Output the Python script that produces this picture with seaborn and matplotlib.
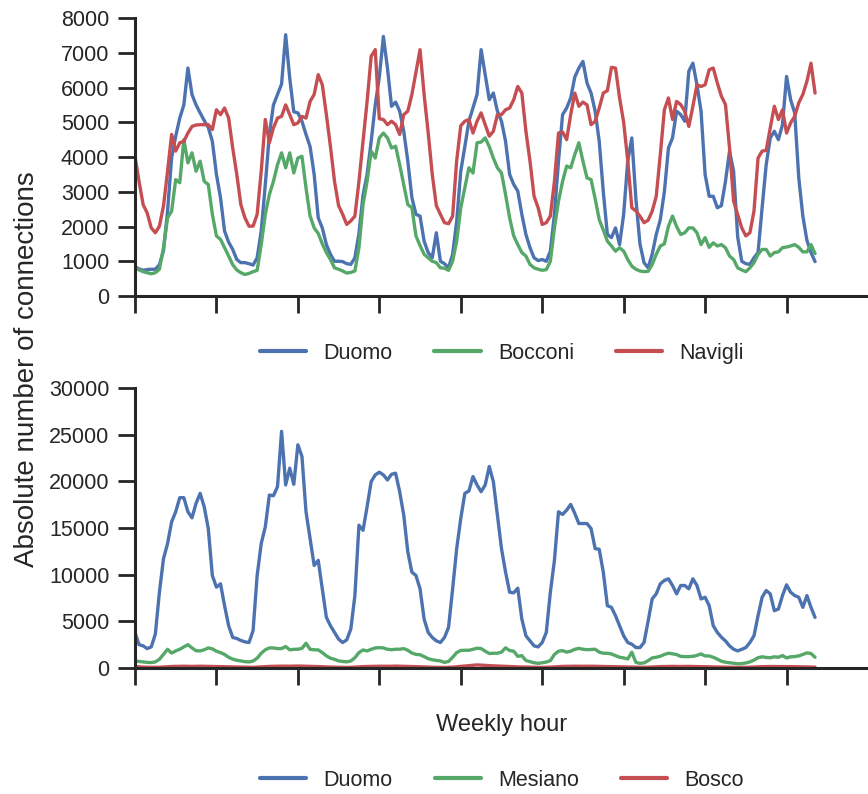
import numpy as np
import pandas as pd
import matplotlib
matplotlib.use("Agg")
from matplotlib import pyplot as plt
import seaborn as sns

hours = np.arange(168)

# top panel: Duomo / Bocconi / Navigli
duomo_top = [
    840, 780, 740, 760, 770, 770, 900, 1300, 2440, 3980, 4600, 5120, 5500, 6560, 5800, 5500, 5270, 5050, 4850, 4450, 3500, 2830, 1870, 1550,
    1340, 1050, 960, 960, 930, 890, 1100, 1870, 3200, 4650, 5500, 5800, 6100, 7520, 6270, 5300, 5270, 5030, 4650, 4300, 3500, 2250, 1960, 1480,
    1200, 1000, 1000, 990, 930, 910, 1100, 1800, 2900, 3500, 4450, 5500, 6300, 7470, 6560, 5460, 5580, 5320, 4740, 3880, 2830, 2350, 2300, 1580,
    1250, 1100, 1820, 1000, 930, 810, 1200, 2150, 3590, 4300, 5030, 5410, 5800, 7090, 6370, 5650, 5840, 5320, 5030, 4450, 3500, 3210, 3020, 2350,
    1770, 1390, 1100, 1020, 1050, 1000, 1290, 2350, 3880, 5220, 5410, 5700, 6300, 6560, 6750, 6130, 5840, 5320, 4450, 3000, 1770, 1680, 1960, 1480,
    2350, 3880, 4550, 2800, 1500, 960, 810, 1200, 1770, 2200, 3000, 4260, 4550, 5320, 5220, 5030, 6470, 6700, 6080, 5320, 3500, 2870, 2870, 2540,
    2600, 3300, 4170, 3590, 1700, 1000, 930, 910, 1100, 1250, 2540, 3780, 4550, 4740, 4500, 4930, 6320, 5650, 5270, 3400, 2300, 1600, 1250, 990,
]
bocconi = [
    830, 750, 700, 670, 640, 670, 770, 1390, 2250, 2440, 3350, 3260, 4500, 3830, 4120, 3590, 3880, 3300, 3210, 2350, 1730, 1630, 1390, 1150,
    900, 750, 670, 620, 650, 700, 740, 1480, 2350, 2920, 3300, 3780, 4120, 3690, 4120, 3540, 3970, 4020, 3110, 2300, 1960, 1800, 1500, 1250,
    1050, 810, 770, 720, 660, 680, 720, 1390, 2630, 3300, 4170, 3970, 4550, 4690, 4550, 4260, 4310, 3780, 3210, 2630, 2540, 1730, 1450, 1200,
    1100, 1000, 960, 810, 800, 740, 1000, 1580, 2540, 3110, 3690, 3540, 4410, 4430, 4550, 4300, 3970, 3690, 3540, 2920, 2250, 1730, 1480, 1250,
    1150, 910, 810, 770, 740, 760, 1000, 1960, 2730, 3300, 3740, 3690, 4070, 4410, 3880, 3400, 3350, 2800, 2200, 1900, 1580, 1440, 1290, 1390,
    1290, 1050, 860, 770, 720, 700, 710, 900, 1200, 1440, 1500, 2010, 2300, 2000, 1770, 1820, 1960, 1960, 1820, 1480, 1680, 1400, 1530, 1440,
    1480, 1390, 1150, 1050, 810, 750, 700, 810, 960, 1200, 1340, 1340, 1150, 1250, 1270, 1390, 1410, 1440, 1480, 1400, 1270, 1270, 1480, 1220,
]
navigli = [
    4020, 3300, 2630, 2390, 1960, 1820, 2010, 2590, 3590, 4650, 4170, 4410, 4450, 4690, 4880, 4920, 4930, 4930, 4930, 4790, 5360, 5220, 5410, 5120,
    4260, 3500, 2630, 2250, 2010, 2010, 2350, 3590, 5080, 4410, 4840, 5120, 5170, 5500, 5220, 4930, 4980, 5170, 5120, 5600, 5800, 6370, 6080, 5220,
    4300, 3300, 2600, 2350, 2060, 2160, 2300, 3300, 4450, 5600, 6900, 7090, 5100, 5080, 4930, 5030, 4930, 4650, 5220, 5320, 5800, 6450, 7090, 5800,
    4700, 3500, 2600, 2350, 2110, 2080, 2300, 3900, 4900, 5030, 5080, 4690, 5030, 5270, 4930, 4600, 4740, 5220, 5220, 5360, 5410, 5650, 6030, 5840,
    4740, 3880, 2870, 2540, 2060, 2110, 2300, 3300, 4690, 4720, 4500, 5220, 5840, 5460, 5580, 5500, 4930, 5030, 5410, 5840, 5910, 6580, 6560, 5700,
    5000, 3900, 2540, 2450, 2300, 2110, 2180, 2440, 2870, 4070, 5360, 5700, 5080, 5600, 5510, 5320, 4880, 5460, 6080, 6030, 6080, 6510, 6560, 6130,
    5750, 5510, 4260, 2730, 2350, 1960, 1730, 1820, 2440, 3970, 4170, 4190, 4840, 5460, 5080, 5360, 4690, 4980, 5170, 5560, 5800, 6180, 6700, 5840,
]

# bottom panel: Duomo / Mesiano / Bosco
duomo_bottom = [
    3810, 2500, 2370, 2080, 2260, 3630, 8120, 11710, 13330, 15660, 16740, 18250, 18250, 16740, 16090, 17640, 18710, 17280, 14940, 9910, 8660, 9020, 6680, 4530,
    3270, 3160, 2950, 2800, 2730, 4000, 9910, 13330, 15120, 18530, 18460, 19430, 25360, 19610, 21410, 19680, 23920, 22670, 16740, 13860, 10990, 11530, 8480, 5420,
    4530, 3810, 3090, 2730, 3020, 4170, 7760, 15300, 14760, 17280, 19970, 20690, 20980, 20690, 20150, 20760, 20870, 18890, 16380, 12430, 10270, 9910, 8480, 5240,
    3810, 3270, 2910, 2730, 3270, 4350, 8480, 12790, 16020, 18710, 18970, 20510, 19610, 18890, 19610, 21590, 19970, 16380, 12790, 10270, 8120, 8050, 8550, 5240,
    3450, 2910, 2370, 2260, 2730, 3810, 8120, 11530, 16740, 16450, 16920, 17530, 16560, 15480, 15480, 15480, 14940, 12790, 12720, 10270, 6680, 6500, 5600, 4530,
    3450, 2730, 2550, 2190, 2190, 2730, 5000, 7400, 7940, 9020, 9380, 9560, 8840, 7940, 8840, 8840, 8480, 9560, 8840, 7400, 7580, 6680, 4530, 3810,
    3300, 2900, 2370, 2010, 1830, 2000, 2190, 2730, 3450, 5600, 7580, 8300, 7940, 6140, 6320, 7760, 8910, 8120, 7760, 7580, 6500, 7760, 6500, 5420,
]
mesiano = [
    750, 700, 650, 600, 580, 650, 930, 1470, 2000, 1600, 1830, 2010, 2250, 2500, 2150, 1850, 1830, 1950, 2150, 2050, 1800, 1650, 1450, 1150,
    950, 830, 750, 680, 650, 750, 1050, 1580, 1950, 2150, 2150, 2080, 2080, 2300, 1950, 2000, 2010, 2100, 2650, 2000, 1950, 1940, 1650, 1300,
    1050, 930, 760, 700, 660, 750, 1100, 1650, 1930, 1830, 2000, 2150, 2180, 2150, 2000, 1960, 2010, 2010, 2080, 1900, 1600, 1460, 1420, 1220,
    1000, 880, 820, 750, 600, 700, 1150, 1650, 1880, 1900, 1900, 2000, 2120, 2080, 1800, 1550, 1580, 1580, 1700, 2160, 1870, 1800, 1250, 1320,
    800, 680, 560, 500, 560, 640, 790, 1450, 1800, 1860, 1700, 1800, 2000, 2100, 2010, 1960, 1980, 2010, 1700, 1580, 1580, 1500, 1320, 1150,
    1080, 970, 1690, 600, 500, 540, 790, 1080, 1150, 1260, 1450, 1580, 1520, 1440, 1240, 1220, 1220, 1250, 1350, 1510, 1290, 1290, 1150, 950,
    720, 620, 560, 500, 450, 470, 540, 650, 850, 1100, 1200, 1130, 1100, 1200, 1150, 1330, 1080, 1200, 1220, 1300, 1450, 1620, 1550, 1150,
]
bosco = [
    150, 120, 100, 80, 70, 70, 80, 110, 140, 160, 170, 180, 190, 180, 170, 180, 190, 180, 170, 160, 150, 140, 130, 120,
    100, 90, 80, 70, 70, 70, 90, 120, 150, 170, 180, 190, 200, 190, 190, 200, 210, 200, 180, 170, 160, 150, 130, 120,
    100, 90, 80, 70, 60, 70, 90, 120, 150, 160, 180, 190, 190, 180, 180, 190, 200, 190, 180, 160, 150, 140, 130, 110,
    100, 80, 70, 70, 60, 70, 90, 130, 170, 220, 260, 300, 330, 310, 280, 250, 230, 210, 190, 170, 150, 140, 120, 110,
    100, 90, 80, 70, 60, 70, 90, 120, 150, 170, 180, 180, 190, 180, 180, 190, 190, 180, 170, 160, 150, 140, 130, 110,
    100, 90, 80, 70, 70, 70, 80, 100, 130, 150, 160, 170, 170, 160, 160, 170, 170, 160, 150, 140, 130, 120, 110, 100,
    90, 80, 70, 60, 60, 60, 70, 90, 110, 130, 140, 150, 160, 150, 150, 150, 160, 150, 140, 130, 120, 110, 100, 90,
]

top_names = ['Duomo', 'Bocconi', 'Navigli']
bottom_names = ['Duomo', 'Mesiano', 'Bosco']
colors = ['#4C72B0', '#55A868', '#C44E52']


def long_frame(names, series):
    return pd.DataFrame({
        'hour': np.tile(hours, len(names)),
        'connections': np.concatenate(series),
        'area': np.repeat(names, len(hours)),
    })


top = long_frame(top_names, [duomo_top, bocconi, navigli])
bottom = long_frame(bottom_names, [duomo_bottom, mesiano, bosco])

sns.set_style('ticks')
plt.rcParams['font.family'] = ['Liberation Sans', 'DejaVu Sans']
plt.rcParams['text.color'] = '#262626'
plt.rcParams['xtick.color'] = '#262626'
plt.rcParams['ytick.color'] = '#262626'

fig = plt.figure(figsize=(8.68, 7.94), dpi=100)
ax1 = fig.add_axes([0.1555, 0.6272, 0.8445, 0.3501])
ax2 = fig.add_axes([0.1555, 0.1587, 0.8445, 0.3526])

panels = [
    (ax1, top, top_names, 8000, 1000, 353),
    (ax2, bottom, bottom_names, 30000, 5000, 780),
]
for ax, df, names, ymax, ystep, legend_y in panels:
    sns.lineplot(data=df, x='hour', y='connections', hue='area', hue_order=names,
                 palette=dict(zip(names, colors)), linewidth=2.4, ax=ax)
    ax.set_xlim(0, 180)
    ax.set_ylim(0, ymax)
    ax.set_xticks(np.arange(0, 161, 20))
    ax.set_yticks(np.arange(0, ymax + 1, ystep))
    ax.tick_params(labelbottom=False, labelsize=15.5, length=12, width=2, pad=6.5)
    ax.set_xlabel('')
    ax.set_ylabel('')
    sns.despine(ax=ax)
    for side in ['left', 'bottom']:
        ax.spines[side].set_linewidth(2.2)
        ax.spines[side].set_color('#262626')

    handles, labels = ax.get_legend_handles_labels()
    for h in handles:
        h.set_linewidth(3)
    ax.legend(handles, labels, loc='center', ncol=3, frameon=False,
              bbox_to_anchor=(502 / 868, 1 - legend_y / 794), bbox_transform=fig.transFigure,
              fontsize=15.5, handlelength=2.15, handletextpad=0.8, columnspacing=1.95)

fig.text(27 / 868, 1 - 369 / 794, 'Absolute number of connections', rotation=90,
         ha='center', va='center', fontsize=20)
fig.text(502 / 868, 1 - 725 / 794, 'Weekly hour', ha='center', va='center', fontsize=17)

fig.savefig('out.png', dpi=100)
